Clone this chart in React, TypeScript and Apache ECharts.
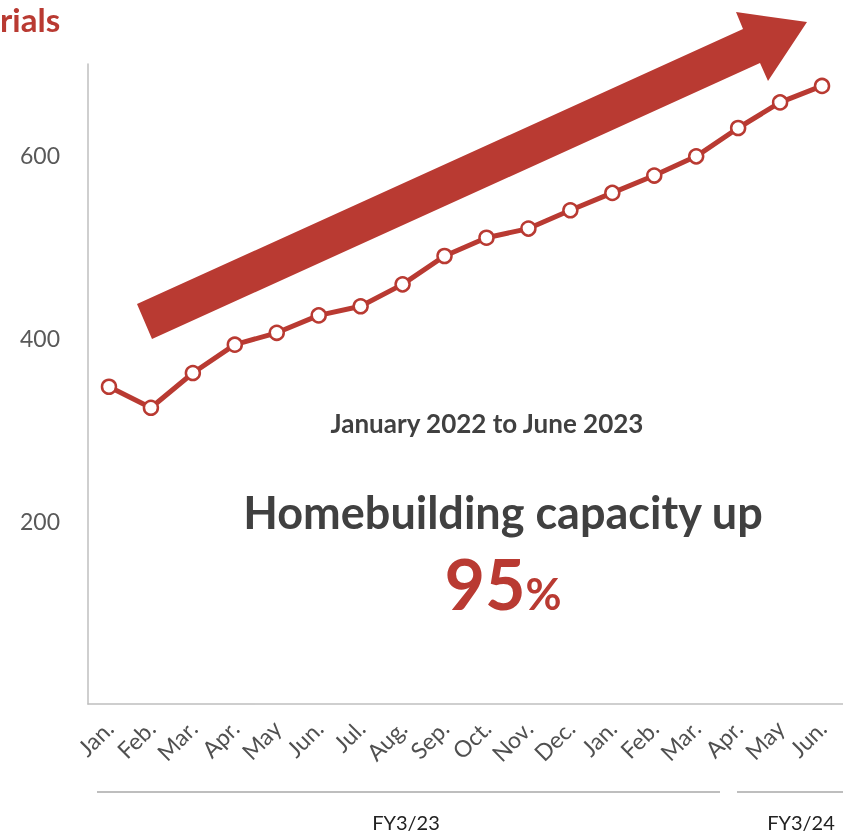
import React, { useEffect, useRef } from "react";
import * as echarts from "echarts";

const months = ["Jan.", "Feb.", "Mar.", "Apr.", "May", "Jun.", "Jul.", "Aug.", "Sep.", "Oct.", "Nov.", "Dec.", "Jan.", "Feb.", "Mar.", "Apr.", "May", "Jun."];
const capacity = [347, 324, 362, 393, 406, 425, 435, 459, 490, 510, 520, 540, 559, 578, 599, 630, 658, 676];
const fiscalYears = ["FY3/23", "FY3/24"];
const RED = "#B93A32";
const FONT = "Lato, 'Open Sans', sans-serif";

export default function App() {
  const ref = useRef<HTMLDivElement>(null);
  useEffect(() => {
    if (!ref.current) return;
    const chart = echarts.init(ref.current, null, { renderer: "svg" });
    chart.setOption({
      animation: false,
      textStyle: { fontFamily: FONT },
      grid: { left: 88, top: 64, bottom: 129, right: -20, containLabel: false },
      xAxis: {
        type: "category",
        data: months,
        boundaryGap: true,
        axisLine: { lineStyle: { color: "#bfbfbf", width: 1.5 } },
        axisTick: { show: false },
        axisLabel: { rotate: 45, color: "#505050", fontSize: 23, margin: 20, interval: 0, fontFamily: FONT },
      },
      yAxis: {
        type: "value",
        min: 0,
        max: 700,
        interval: 200,
        axisLine: { show: true, lineStyle: { color: "#bfbfbf", width: 1.5 } },
        axisTick: { show: false },
        splitLine: { show: false },
        axisLabel: {
          color: "#595959",
          fontSize: 23,
          margin: 28,
          showMaxLabel: false,
          formatter: (v: number) => (v === 0 || v > 650 ? "" : String(v)),
        },
      },
      series: [
        {
          type: "line",
          data: capacity,
          symbol: "circle",
          symbolSize: 14,
          lineStyle: { color: RED, width: 5 },
          itemStyle: { color: "#ffffff", borderColor: RED, borderWidth: 2.5 },
          z: 5,
        },
      ],
      graphic: [
        {
          type: "polygon",
          z: 1,
          shape: {
            points: [
              [137, 304],
              [743, 29],
              [736, 12],
              [807, 22],
              [768, 81],
              [760, 63],
              [152, 339],
            ],
          },
          style: { fill: RED },
        },
        {
          type: "text",
          x: 0,
          y: 2,
          style: { text: "rials", fill: RED, font: `bold 33px ${FONT}` },
        },
        {
          type: "text",
          x: 487,
          y: 423,
          style: { text: "January 2022 to June 2023", fill: "#404040", font: `bold 26px ${FONT}`, align: "center", verticalAlign: "middle" },
        },
        {
          type: "text",
          x: 503,
          y: 512,
          style: { text: "Homebuilding capacity up", fill: "#404040", font: `bold 45px ${FONT}`, align: "center", verticalAlign: "middle" },
        },
        {
          type: "text",
          x: 503,
          y: 583,
          style: {
            text: "{a|95}{b|%}",
            align: "center",
            verticalAlign: "middle",
            rich: {
              a: { fill: RED, fontSize: 70, fontWeight: "bold", fontFamily: FONT },
              b: { fill: RED, fontSize: 44, fontWeight: "bold", fontFamily: FONT, padding: [20, 0, 0, 0] },
            },
          },
        },
        { type: "line", shape: { x1: 97, y1: 792, x2: 720, y2: 792 }, style: { stroke: "#7f7f7f", lineWidth: 1.2 } },
        { type: "line", shape: { x1: 737, y1: 792, x2: 843, y2: 792 }, style: { stroke: "#7f7f7f", lineWidth: 1.2 } },
        {
          type: "text",
          x: 406,
          y: 822,
          style: { text: fiscalYears[0], fill: "#222222", font: `20px ${FONT}`, align: "center", verticalAlign: "middle" },
        },
        {
          type: "text",
          x: 801,
          y: 822,
          style: { text: fiscalYears[1], fill: "#222222", font: `20px ${FONT}`, align: "center", verticalAlign: "middle" },
        },
      ],
    });
    return () => chart.dispose();
  }, []);
  return <div ref={ref} style={{ position: "fixed", left: 0, top: 0, width: 843, height: 833 }} />;
}
